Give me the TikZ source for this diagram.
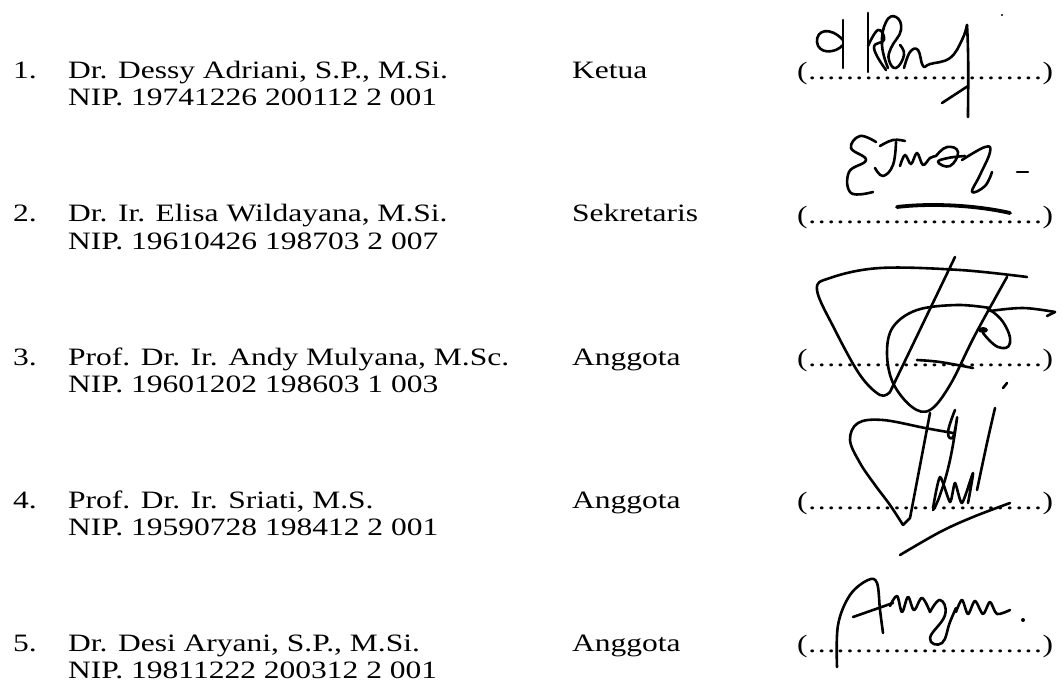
\documentclass[tikz,border=0pt]{standalone}
\usepackage{fontspec}
\setmainfont{Liberation Serif}[FakeStretch=1.26]
\newcommand{\dotline}{(\hbox to 235pt{\xleaders\hbox to 9.4pt{\hss.\hss}\hfill})}
\begin{document}
\begin{tikzpicture}[x=1pt,y=-1pt,
  txt/.style={anchor=base west,inner sep=0pt,font=\fontsize{25}{27}\selectfont},
  sig/.style={line width=2.6pt,line cap=round,line join=round,black}]
\fill[white] (0,0) rectangle (1062,695);
\useasboundingbox (0,0) rectangle (1062,695);
% ---- row 1
\node[txt] (k1) at (13,79) {1.};
\node[txt] (n1) at (68,79) {Dr. Dessy Adriani, S.P., M.Si.};
\node[txt] (p1) at (68,106) {NIP. 19741226 200112 2 001};
\node[txt] (r1) at (572,79) {Ketua};
\node[txt] (s1) at (797,80) {\dotline};
% ---- row 2
\node[txt] (k2) at (13,222) {2.};
\node[txt] (n2) at (68,222) {Dr. Ir. Elisa Wildayana, M.Si.};
\node[txt] (p2) at (68,249) {NIP. 19610426 198703 2 007};
\node[txt] (r2) at (572,222) {Sekretaris};
\node[txt] (s2) at (797,223) {\dotline};
% ---- row 3
\node[txt] (k3) at (13,365) {3.};
\node[txt] (n3) at (68,365) {Prof. Dr. Ir. Andy Mulyana, M.Sc.};
\node[txt] (p3) at (68,392) {NIP. 19601202 198603 1 003};
\node[txt] (r3) at (572,365) {Anggota};
\node[txt] (s3) at (797,366) {\dotline};
% ---- row 4
\node[txt] (k4) at (13,508) {4.};
\node[txt] (n4) at (68,508) {Prof. Dr. Ir. Sriati, M.S.};
\node[txt] (p4) at (68,535) {NIP. 19590728 198412 2 001};
\node[txt] (r4) at (572,508) {Anggota};
\node[txt] (s4) at (797,509) {\dotline};
% ---- row 5
\node[txt] (k5) at (13,651) {5.};
\node[txt] (n5) at (68,651) {Dr. Desi Aryani, S.P., M.Si.};
\node[txt] (p5) at (68,678) {NIP. 19811222 200312 2 001};
\node[txt] (r5) at (572,651) {Anggota};
\node[txt] (s5) at (797,652) {\dotline};

% ---- signature 1
\draw[sig] (843,20) -- (843,68);
\draw[sig] (843,40) .. controls (830,26) and (816,30) .. (817,42) .. controls (818,54) and (835,54) .. (843,45);
\draw[sig] (868,13) -- (868,72);
\draw[sig] plot[smooth,tension=0.8] coordinates {(868,46) (878,30) (884,40) (874,48) (886,70)};
\draw[sig] plot[smooth,tension=0.8] coordinates {(888,68) (882,45) (886,22) (896,17) (901,30) (891,48) (889,60) (896,68) (904,55) (900,45)};
\draw[sig] plot[smooth,tension=0.7] coordinates {(904,68) (910,52) (918,50) (923,66) (930,64) (950,58) (962,40) (967,25)};
\draw[sig] (967,25) .. controls (969,60) and (968,90) .. (968,117);
\draw[sig] (942,103) -- (968,86);
\fill (1002,15) circle (1.2);

% ---- signature 2
\draw[sig] plot[smooth,tension=0.7] coordinates {(876,142) (860,136) (851,148) (866,160) (849,172) (851,193) (873,192)};
\draw[sig] plot[smooth,tension=0.7] coordinates {(880,146) (893,140) (905,141)};
\draw[sig] plot[smooth,tension=0.7] coordinates {(896,142) (893,165) (883,176) (875,168)};
\draw[sig] plot[smooth,tension=0.6] coordinates {(900,166) (905,155) (911,164) (917,153) (923,165) (930,158) (936,156)};
\draw[sig] plot[smooth,tension=0.8] coordinates {(936,156) (947,147) (958,152) (950,166) (938,162) (948,158) (965,156)};
\draw[sig] plot[smooth,tension=0.7] coordinates {(962,160) (985,147) (990,152) (980,175) (972,192) (985,186) (992,172)};
\draw[sig] (1017,172) -- (1028,172);
\draw[line width=3.8pt,line cap=round] (897,207) .. controls (930,203) and (975,205) .. (1010,213);

% ---- signature 3
\draw[sig] plot[smooth,tension=0.6] coordinates {(1027,277) (960,270) (880,268) (830,278) (817,290) (835,330) (860,375) (880,395) (890,392)};
\draw[sig] (890,392) -- (955,257);
\draw[sig] plot[smooth,tension=0.6] coordinates {(1007,277) (975,335) (950,385) (930,410) (912,407) (893,383) (887,353) (893,327) (917,310) (957,305) (990,308)};
\draw[sig] plot[smooth,tension=0.8] coordinates {(987,308) (1003,322) (1010,343) (998,347) (983,333)};
\fill (983,330) ellipse (5 and 3);
\draw[sig] plot[smooth,tension=0.6] coordinates {(990,311) (1023,308) (1055,312)};
\draw[sig] (1055,312) -- (1047,316);
\draw[sig] plot[smooth,tension=0.6] coordinates {(917,360) (940,362) (973,368)};
\draw[sig] (1003,388) -- (1007,383);

% ---- signature 4
\draw[sig] plot[smooth,tension=0.6] coordinates {(953,433) (925,428) (883,420) (858,423) (850,440) (860,463) (875,485) (890,505) (903,525)};
\draw[sig] (903,525) -- (910,518) -- (930,413);
\draw[sig] plot[smooth,tension=0.8] coordinates {(955,410) (948,432) (953,437) (957,418) (950,460) (940,495) (933,510)};
\draw[sig] plot[smooth,tension=0.4] coordinates {(933,508) (940,477) (950,502) (955,483) (962,503) (973,473) (968,503)};
\draw[sig] plot[smooth,tension=0.6] coordinates {(995,408) (987,443) (977,490)};
\draw[sig] plot[smooth,tension=0.6] coordinates {(900,555) (940,532) (973,517) (1010,503)};

% ---- signature 5
\draw[sig] plot[smooth,tension=0.6] coordinates {(837,667) (838,625) (850,595) (868,580) (877,583) (880,610) (883,633)};
\draw[sig] (853,617) -- (893,603);
\draw[sig] plot[smooth,tension=0.6] coordinates {(890,606) (897,596) (902,612) (908,597) (914,610) (922,598) (930,612)};
\draw[sig] plot[smooth,tension=0.8] coordinates {(930,612) (940,600) (945,615) (930,638) (942,643) (950,622) (956,608)};
\draw[sig] plot[smooth,tension=0.5] coordinates {(956,612) (962,600) (968,614) (975,601) (983,614) (990,602) (997,614) (1010,610)};
\fill (1023,620) circle (2);
\end{tikzpicture}
\end{document}
